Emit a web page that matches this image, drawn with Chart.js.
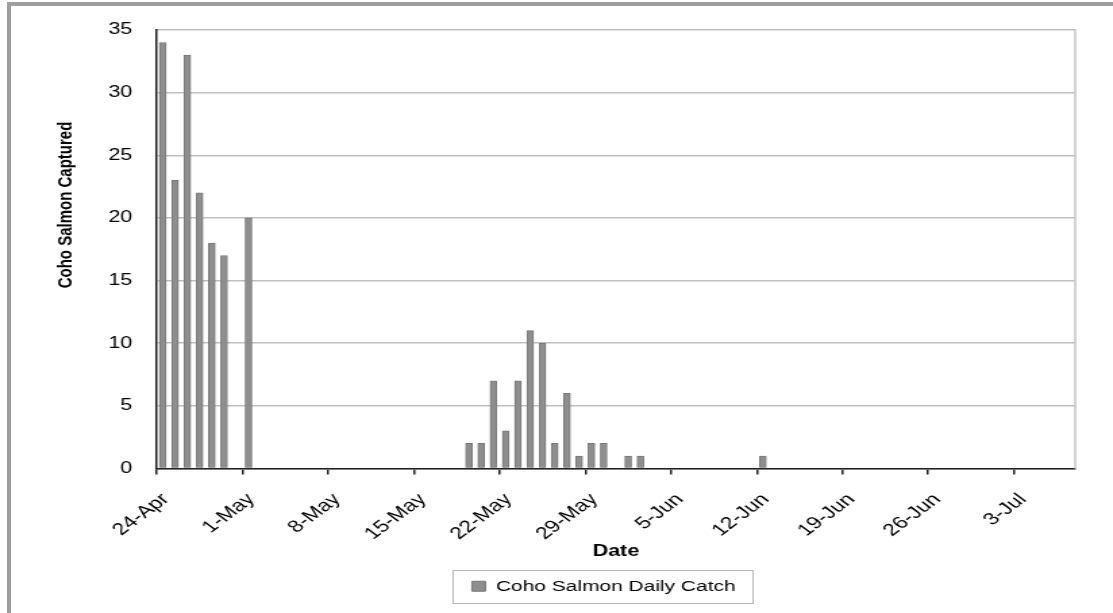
<!DOCTYPE html>
<html>
<head>
<meta charset="utf-8">
<script src="https://cdn.jsdelivr.net/npm/chart.js@4/dist/chart.umd.min.js"></script>
<style>
  html, body { margin: 0; padding: 0; background: #fff; }
  body { width: 1113px; height: 613px; position: relative; overflow: hidden; }
  #frame {
    position: absolute; left: 7px; top: 2px; width: 1106px; height: 611px;
    border-top: 4px solid #9e9e9e; border-left: 4px solid #9e9e9e; box-sizing: border-box;
  }
  /* the chart is drawn narrower and widened, giving the broad lettering of the print */
  #chart {
    position: absolute; left: 0; top: 0;
    width: 824px; height: 613px;
    transform: scaleX(1.3507); transform-origin: 0 0;
  }
</style>
</head>
<body>
<div id="frame"></div>
<canvas id="chart" width="824" height="613"></canvas>
<script>
// Daily coho salmon catch (days with no catch are omitted)
const catchDates = ['24-Apr', '25-Apr', '26-Apr', '27-Apr', '28-Apr', '29-Apr', '1-May',
  '19-May', '20-May', '21-May', '22-May', '23-May', '24-May', '25-May', '26-May',
  '27-May', '28-May', '29-May', '30-May', '1-Jun', '2-Jun', '12-Jun'];
const catchCounts = [34, 23, 33, 22, 18, 17, 20,
  2, 2, 7, 3, 7, 11, 10, 2,
  6, 1, 2, 2, 1, 1, 1];

// weekly date ticks along the axis
const dateTicks = ['24-Apr', '1-May', '8-May', '15-May', '22-May', '29-May',
  '5-Jun', '12-Jun', '19-Jun', '26-Jun', '3-Jul'];

const seriesName = 'Coho Salmon Daily Catch';
const MONTHS = { Apr: 3, May: 4, Jun: 5, Jul: 6 };
const origin = new Date(2001, 3, 24);
function dayIndex(label) {
  const [d, m] = label.split('-');
  return Math.round((new Date(2001, MONTHS[m], +d) - origin) / 86400000);
}

// each bar sits in the middle of its day slot
const points = catchDates.map((d, i) => ({ x: dayIndex(d) + 0.5, y: catchCounts[i] }));

const FONT = "'Liberation Sans', Arial, sans-serif";

const plotDecor = {
  id: 'plotDecor',
  afterLayout(chart) {
    // nudge the legend a little left of the plot centre
    const lg = chart.legend;
    if (lg) { lg.left -= 9; lg.right -= 9; }
  },
  afterDraw(chart) {
    const { ctx, chartArea: a } = chart;
    ctx.save();
    // right edge of the plot area
    ctx.strokeStyle = '#c4c4c4';
    ctx.lineWidth = 1.5;
    ctx.beginPath();
    ctx.moveTo(a.right, a.top - 0.75);
    ctx.lineTo(a.right, a.bottom);
    ctx.stroke();

    // value axis title
    ctx.fillStyle = '#000';
    ctx.font = 'bold 15px ' + FONT;
    ctx.textAlign = 'center';
    ctx.textBaseline = 'middle';
    ctx.translate(49, 205);
    ctx.rotate(-Math.PI / 2);
    ctx.fillText('Coho Salmon Captured', 0, 0);
    ctx.restore();

    // frame around the legend
    const hb = chart.legend.legendHitBoxes[0];
    if (hb) {
      const cy = hb.top + hb.height / 2;
      ctx.save();
      ctx.strokeStyle = '#b8b8b8';
      ctx.lineWidth = 1;
      ctx.strokeRect(Math.round(hb.left - 14) + 0.5, Math.round(cy - 16.5) + 0.5,
        Math.round(hb.width + 27), 33);
      ctx.restore();
    }
  }
};

new Chart(document.getElementById('chart'), {
  type: 'bar',
  data: {
    datasets: [{
      label: seriesName,
      data: points,
      backgroundColor: '#8e8e8e',
      borderColor: '#787878',
      borderWidth: 1,
      barThickness: 5
    }]
  },
  options: {
    responsive: false,
    devicePixelRatio: 1,
    animation: false,
    events: [],
    layout: { padding: { left: 0, right: 28, top: 30, bottom: 9 } },
    scales: {
      x: {
        type: 'linear',
        min: 0,
        max: 75,
        offset: false,
        afterBuildTicks(scale) {
          scale.ticks = dateTicks.map((_, i) => ({ value: i * 7 }));
        },
        afterFit(scale) { scale.height = 100; },
        grid: {
          display: true,
          offset: false,
          drawOnChartArea: false,
          drawTicks: true,
          tickLength: 6,
          tickColor: '#222',
          lineWidth: 1.5
        },
        border: { display: true, color: '#222', width: 1.5 },
        ticks: {
          autoSkip: false,
          maxRotation: 45,
          minRotation: 45,
          padding: 15,
          labelOffset: 6.6,
          color: '#000',
          font: { family: FONT, size: 17 },
          callback: (v) => dateTicks[Math.round(v / 7)]
        },
        title: {
          display: true,
          text: 'Date',
          color: '#000',
          font: { family: FONT, size: 16, weight: 'bold' },
          padding: { top: 0, bottom: 7 }
        }
      },
      y: {
        min: 0,
        max: 35,
        afterFit(scale) { scale.width = 116; },
        grid: {
          color: '#c0c0c0',
          lineWidth: 1.5,
          drawTicks: false
        },
        border: { display: true, color: '#222', width: 1.5 },
        ticks: {
          stepSize: 5,
          padding: 18,
          color: '#000',
          font: { family: FONT, size: 16 }
        }
      }
    },
    plugins: {
      legend: {
        position: 'bottom',
        fullSize: false,
        labels: {
          boxWidth: 10,
          boxHeight: 10,
          padding: 10,
          color: '#000',
          font: { family: FONT, size: 15.5 }
        }
      },
      tooltip: { enabled: false }
    }
  },
  plugins: [plotDecor]
});
</script>
</body>
</html>
